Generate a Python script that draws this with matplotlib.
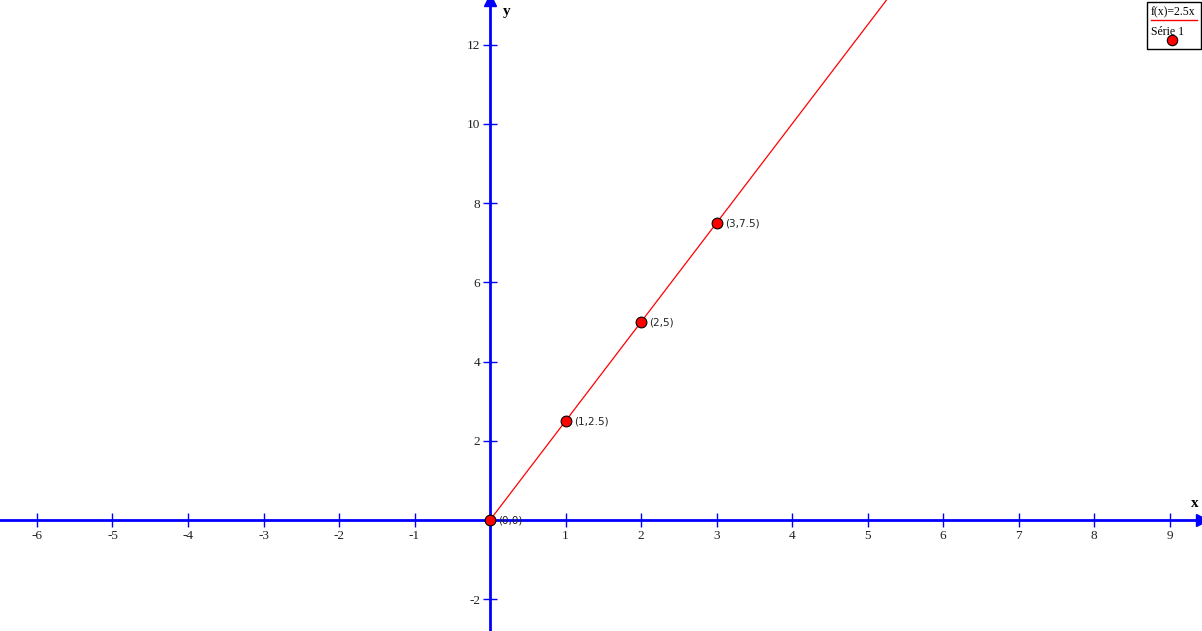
import matplotlib
matplotlib.use("Agg")
import matplotlib.pyplot as plt
from matplotlib.patches import Rectangle
from matplotlib.lines import Line2D
import numpy as np

# data
slope = 2.5
func_label = "f(x)=2.5x"
series_label = "Série 1"
pts_x = [0, 1, 2, 3]
pts_y = [0, 2.5, 5, 7.5]
pt_labels = ["(0,0)", "(1,2.5)", "(2,5)", "(3,7.5)"]
xticks = [-6, -5, -4, -3, -2, -1, 1, 2, 3, 4, 5, 6, 7, 8, 9]
yticks = [-2, 2, 4, 6, 8, 10, 12]
xlim = (-6.49, 9.43)
ylim = (-2.80, 13.13)

fig = plt.figure(figsize=(12.02, 6.31), dpi=100)
ax = fig.add_axes([0, 0, 1, 1])
ax.set_xlim(*xlim)
ax.set_ylim(*ylim)
ax.set_facecolor("white")

blue = "#0000FF"
for s in ["top", "right"]:
    ax.spines[s].set_visible(False)
ax.spines["left"].set_position(("data", 0))
ax.spines["bottom"].set_position(("data", 0))
for s in ["left", "bottom"]:
    ax.spines[s].set_color(blue)
    ax.spines[s].set_linewidth(2)
    ax.spines[s].set_zorder(1)

ax.set_xticks(xticks)
ax.set_yticks(yticks)
ax.set_xticklabels([str(t) for t in xticks])
ax.set_yticklabels([str(t) for t in yticks])
ax.tick_params(axis="both", direction="inout", length=10, width=1, color=blue,
               labelsize=9.5, labelcolor="#222222", pad=2)
for lab in ax.get_xticklabels() + ax.get_yticklabels():
    lab.set_family(["Liberation Serif", "DejaVu Serif"])

# arrows
ax.plot(1, 0, ">", color=blue, markersize=8, transform=ax.get_yaxis_transform(), clip_on=False, zorder=2)
ax.plot(0, 1, "^", color=blue, markersize=8, transform=ax.get_xaxis_transform(), clip_on=False, zorder=2)

# axis names
ax.text(9.33, 0.25, "x", family=["Liberation Serif"], fontweight="bold", fontsize=11, ha="center", va="bottom")
ax.text(0.22, 12.85, "y", family=["Liberation Serif"], fontweight="bold", fontsize=11, ha="center", va="center")

# function line
xs = np.array([0, ylim[1] / slope])
ax.plot(xs, slope * xs, color="#FF0000", lw=0.9, zorder=3)

# points
ax.scatter(pts_x, pts_y, s=60, color="#FF0000", edgecolor="black", linewidth=0.8, zorder=4)
for x, y, t in zip(pts_x, pts_y, pt_labels):
    ax.annotate(t, (x, y), xytext=(6, -0.5), textcoords="offset points", fontsize=7.5,
                family=["DejaVu Sans"], color="#222222", va="center", ha="left")

# legend box (manual)
lx0, ly0 = 1147 / 1202, 1 - 49 / 631
lw_, lh_ = 54 / 1202, 47 / 631
ax.add_patch(Rectangle((lx0, ly0), lw_, lh_, transform=ax.transAxes, facecolor="white",
                       edgecolor="black", lw=1, zorder=5, clip_on=False))
ax.text(lx0 + 4 / 1202, 1 - 12 / 631, func_label, transform=ax.transAxes, fontsize=8.5,
        family=["Liberation Serif"], va="center", ha="left", zorder=6)
ax.add_line(Line2D([lx0 + 4 / 1202, lx0 + 50 / 1202], [1 - 20 / 631, 1 - 20 / 631],
                   transform=ax.transAxes, color="#FF0000", lw=1, zorder=6))
ax.text(lx0 + 4 / 1202, 1 - 32 / 631, series_label, transform=ax.transAxes, fontsize=8.5,
        family=["Liberation Serif"], va="center", ha="left", zorder=6)
ax.add_line(Line2D([lx0 + 25 / 1202], [1 - 40 / 631], transform=ax.transAxes, marker="o",
                   markersize=7.5, markerfacecolor="#FF0000", markeredgecolor="black",
                   markeredgewidth=0.8, linestyle="none", zorder=7))

fig.savefig("out.png", dpi=100)
